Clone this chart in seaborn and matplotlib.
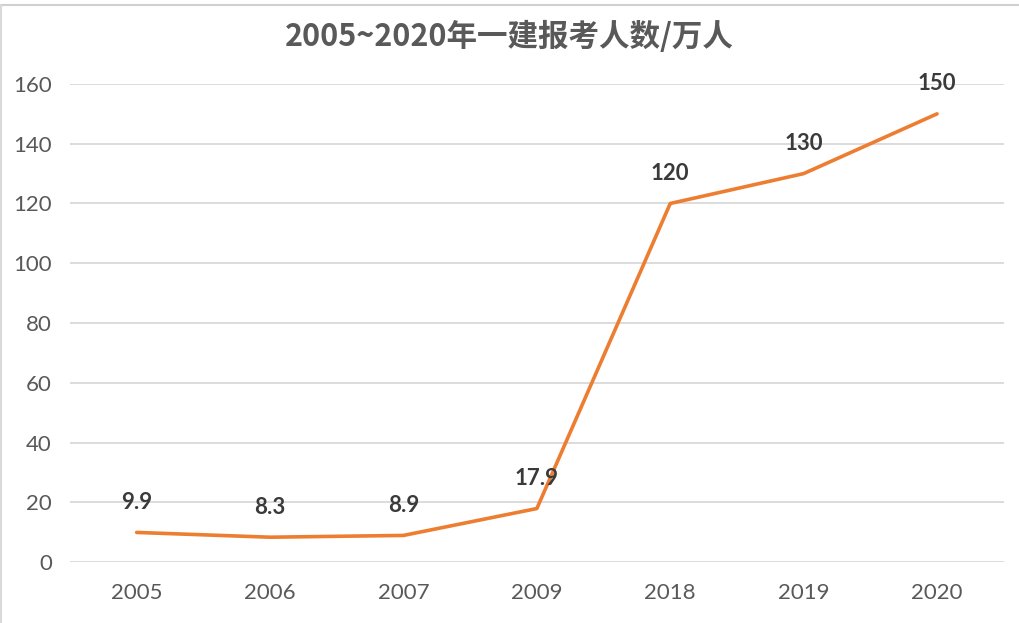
import matplotlib
matplotlib.use('Agg')
import matplotlib.pyplot as plt
import seaborn as sns
import pandas as pd

years = ['2005', '2006', '2007', '2009', '2018', '2019', '2020']
applicants = [9.9, 8.3, 8.9, 17.9, 120, 130, 150]
y_ticks = [0, 20, 40, 60, 80, 100, 120, 140, 160]
title = '2005~2020年一建报考人数/万人'

df = pd.DataFrame({'year': years, 'value': applicants})

sns.set_style('white')
plt.rcParams['font.family'] = ['Lato', 'Noto Sans CJK SC', 'DejaVu Sans']

fig = plt.figure(figsize=(10.19, 6.23), dpi=100)
ax = fig.add_axes([0.0687, 0.0979, 0.9163, 0.7673])

sns.lineplot(data=df, x='year', y='value', ax=ax, color='#ED7D31',
             linewidth=2.6, sort=False)

for i, v in enumerate(applicants):
    ax.annotate(f'{v:g}', (i, v), xytext=(0, 14), textcoords='offset points',
                ha='center', va='bottom', fontsize=16, fontweight='bold',
                color='#3A3A3A')

ax.set_xlim(-0.5, len(years) - 0.5)
ax.set_ylim(0, 160)
ax.set_yticks(y_ticks)
ax.yaxis.grid(True, color='#D9D9D9', linewidth=1.3)
ax.set_axisbelow(True)
for s in ax.spines.values():
    s.set_visible(False)
ax.tick_params(axis='both', length=0, labelsize=16, labelcolor='#595959')
ax.tick_params(axis='x', pad=15)
ax.tick_params(axis='y', pad=13)
ax.set_xlabel('')
ax.set_ylabel('')

fig.text(0.5, 0.94, title, ha='center', va='center', fontsize=22,
         fontweight='bold', color='#595959',
         family=['Noto Sans CJK SC', 'DejaVu Sans'])

# thin frame like the screenshot edges
fig.add_artist(plt.Line2D([0, 1], [0.992, 0.992], color='#D0D0D0', linewidth=1.5,
                          transform=fig.transFigure))
fig.add_artist(plt.Line2D([0.001, 0.001], [0, 0.992], color='#D9D9D9', linewidth=1.5,
                          transform=fig.transFigure))

fig.savefig('out.png', dpi=100)
